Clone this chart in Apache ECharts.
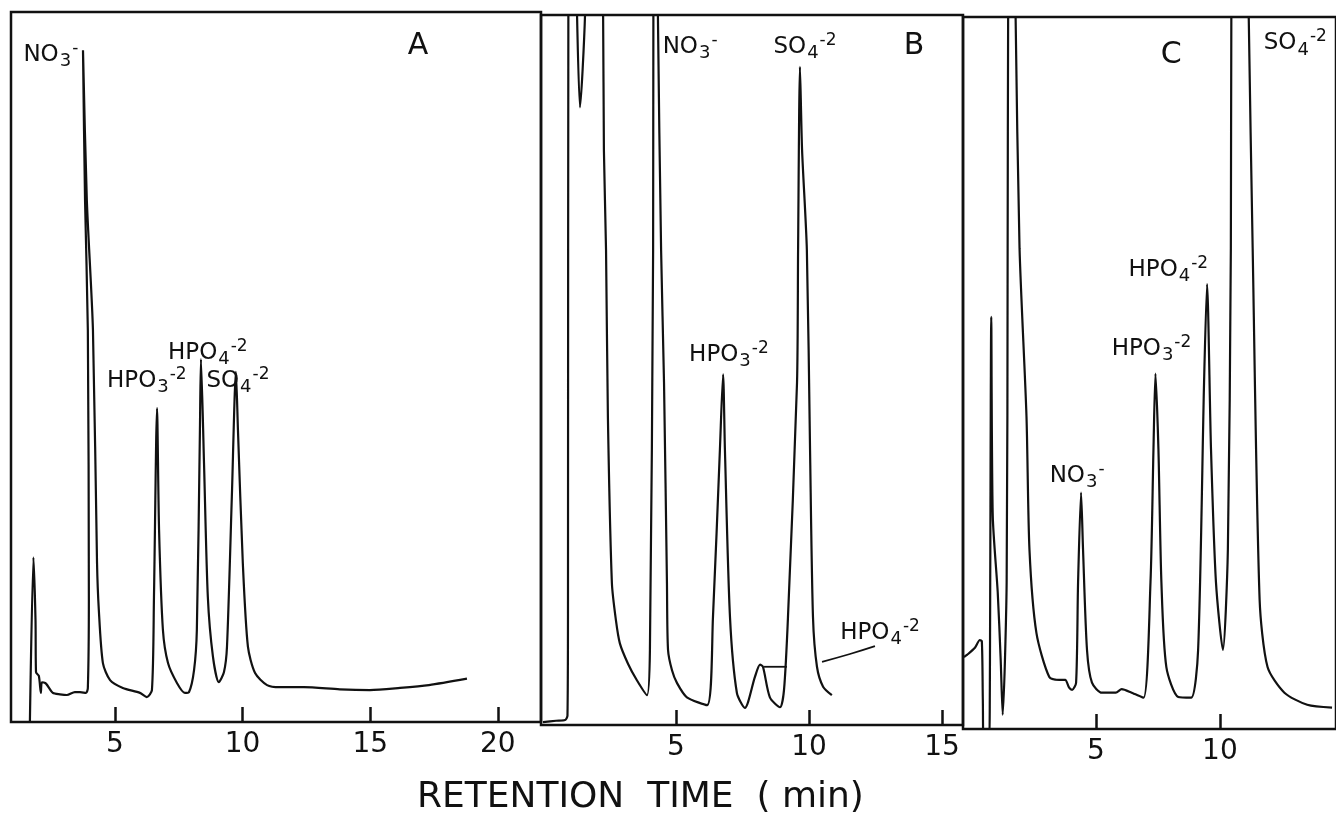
<!DOCTYPE html>
<html>
<head>
<meta charset="utf-8">
<script src="https://cdn.jsdelivr.net/npm/echarts@6/dist/echarts.min.js"></script>
<style>
html,body{margin:0;padding:0;background:#fff;}
#chart{width:1336px;height:817px;}
</style>
</head>
<body>
<div id="chart"></div>
<script>
// Retention time (min) and detector response (% of full scale)
const traceA = [
  [1.67,0],[1.81,23.2],[1.89,14.4],[1.91,7.0],[2.02,6.5],[2.10,4.1],[2.14,5.6],[2.30,5.4],[2.57,4.1],
  [2.85,3.9],[3.12,3.8],[3.43,4.2],[3.63,4.2],[3.87,4.1],[3.94,4.8],[3.98,17.2],[3.94,55.2],[3.83,73.5],
  [3.75,94.6],[3.90,73.5],[4.14,55.2],[4.30,22.4],[4.37,15.8],[4.53,8.3],[4.81,5.9],[5.31,4.8],[5.98,4.1],
  [6.25,3.5],[6.45,4.5],[6.53,17.6],[6.65,44.2],[6.73,27.0],[6.88,13.0],[7.08,8.3],[7.43,5.5],[7.74,4.1],
  [7.90,4.2],[8.10,7.3],[8.21,13.0],[8.33,41.1],[8.37,51.1],[8.49,36.5],[8.64,17.6],[8.84,9.2],[9.07,5.6],
  [9.27,7.0],[9.39,10.6],[9.58,31.7],[9.74,49.3],[9.82,41.1],[10.01,22.4],[10.21,10.6],[10.49,6.9],
  [10.96,5.2],[11.46,4.9],[12.40,4.9],[13.81,4.6],[14.99,4.5],[16.17,4.8],[17.30,5.2],[18.79,6.1]
];
const traceB = [
  [0.00,0.4],[0.49,0.6],[0.83,0.7],[0.92,1.3],[0.94,17.6],[0.96,125],[1.17,125],[1.28,100],[1.39,87.0],
  [1.58,100],[1.69,125],[2.14,125],[2.26,100],[2.29,81.0],[2.37,66.9],[2.44,43.4],[2.59,20.0],[2.74,14.8],
  [2.89,11.5],[3.20,8.6],[3.53,6.3],[3.91,4.2],[4.02,10.6],[4.14,66.9],[4.15,100],[4.21,125],[4.29,125],
  [4.32,100],[4.44,66.9],[4.55,48.2],[4.66,20.0],[4.70,10.6],[4.85,7.7],[5.04,5.9],[5.41,3.9],[6.17,2.8],
  [6.39,15.2],[6.65,38.7],[6.77,49.4],[6.84,38.7],[7.03,15.2],[7.29,4.5],[7.59,2.4],[7.97,6.8],[8.16,8.5],
  [8.27,8.2],[8.53,3.9],[8.91,2.5],[9.06,4.9],[9.21,15.2],[9.55,48.2],[9.59,66.9],[9.66,92.7],[9.74,81.0],
  [9.92,66.9],[10.04,38.7],[10.15,15.2],[10.30,8.2],[10.53,5.4],[10.86,4.2]
];
const traceC = [
  [-0.32,10.1],[-0.20,10.4],[0.12,11.4],[0.32,12.5],[0.40,12.3],[0.44,4.1],[0.48,-2.3],[0.68,-2.3],
  [0.72,4.1],[0.78,57.9],[0.84,29.9],[1.04,19.2],[1.16,9.7],[1.24,2.0],[1.40,20.6],[1.44,67.5],[1.46,100.3],
  [1.52,125],[1.68,125],[1.76,100.3],[1.92,67.5],[2.20,43.9],[2.32,25.2],[2.60,13.5],[3.12,7.3],[3.52,6.9],
  [3.76,6.9],[3.92,5.8],[4.04,5.5],[4.20,6.5],[4.28,20.6],[4.40,33.2],[4.48,25.2],[4.64,11.1],[4.84,6.5],
  [5.24,5.1],[5.80,5.1],[6.04,5.6],[6.44,5.1],[6.92,4.4],[7.20,20.6],[7.32,39.3],[7.40,49.9],[7.52,39.3],
  [7.64,20.6],[7.84,8.7],[8.32,4.5],[8.84,4.4],[9.12,11.1],[9.36,48.7],[9.48,62.5],[9.64,39.3],[9.84,20.6],
  [10.12,11.1],[10.32,25.2],[10.44,67.5],[10.46,100.3],[10.56,125],[11.08,125],[11.16,100.3],[11.32,67.5],
  [11.60,18.2],[11.92,8.7],[12.60,5.1],[13.52,3.4],[14.52,3.0]
];
// peak labels: [element, subscript, superscript, time, response]
const peaksA = [['NO','3','-',2.49,93.9],['HPO','3','-2',6.25,48.0],['HPO','4','-2',8.64,52.0],['SO','4','-2',9.82,48.0]];
const peaksB = [['NO','3','-',5.53,95.5],['SO','4','-2',9.85,95.5],['HPO','3','-2',6.99,52.1],['HPO','4','-2',12.67,13.0]];
const peaksC = [['SO','4','-2',13.04,96.3],['HPO','4','-2',7.92,64.5],['HPO','3','-2',7.24,53.4],['NO','3','-',4.24,35.5]];
const panelNames = ['A','B','C'];
const panelNamePos = [[16.87,95.2],[13.95,95.6],[8.04,94.6]];
// HPO4 marker in B: small baseline tick and leader line
const markerB = [[8.31,8.2],[9.17,8.2]];
const leaderB = [[10.49,8.9],[11.54,10.0],[12.48,11.1]];
const ticksA = [5,10,15,20];
const ticksB = [5,10,15];
const ticksC = [5,10];
const xRange = [[0.93,21.69],[-0.075,15.79],[-0.36,14.68]];
const axisTitle = 'RETENTION  TIME  ( min)';

const ink = '#111';
const font = 'DejaVu Sans';
const rich = {
  n:{fontSize:23,fontFamily:font,color:ink},
  s:{fontSize:18,fontFamily:font,color:ink,padding:[13,0,0,1]},
  p:{fontSize:17,fontFamily:font,color:ink,padding:[0,0,13,1]}
};
function labelSeries(list, gi, name, pos){
  const data = list.map(p => ({value:[p[3],p[4]], label:{formatter:'{n|'+p[0]+'}{s|'+p[1]+'}{p|'+p[2]+'}'}}));
  data.push({value:pos, label:{formatter:'{L|'+name+'}'}});
  return {type:'scatter', xAxisIndex:gi, yAxisIndex:gi, symbolSize:0, silent:true, z:5,
    itemStyle:{opacity:1},
    label:{show:true, position:'inside', color:ink, rich:Object.assign({L:{fontSize:30,fontFamily:font,color:ink}}, rich)},
    data:data};
}
const grids = [
  {left:11, right:795, top:12, bottom:95},
  {left:541, right:373, top:15, bottom:92},
  {left:963, right:-3, top:17, bottom:88}
].map(g => Object.assign(g, {show:true, borderColor:ink, borderWidth:2.5, containLabel:false}));
const tickSets = [ticksA, ticksB, ticksC];
const xAxes = tickSets.map((t,i) => ({
  type:'value', gridIndex:i, min:xRange[i][0], max:xRange[i][1],
  axisLine:{show:false}, splitLine:{show:false},
  axisTick:{show:true, inside:true, length:15, customValues:t, lineStyle:{color:ink,width:2.5}},
  axisLabel:{show:true, margin:9, customValues:t, fontSize:28, fontFamily:font, color:ink}
}));
const yAxes = [0,1,2].map(i => ({type:'value', gridIndex:i, min:0, max:100, show:false}));
const lineStyle = {color:ink, width:2.2};
const traces = [traceA, traceB, traceC].map((d,i) => ({
  type:'line', xAxisIndex:i, yAxisIndex:i, data:d, showSymbol:false, clip:true, silent:true,
  smooth:0.25, lineStyle:lineStyle, z:3
}));
const option = {
  backgroundColor:'#fff',
  animation:false,
  title:{text:axisTitle, left:412, top:775, textStyle:{fontSize:36, fontWeight:'normal', fontFamily:font, color:ink}},
  grid:grids, xAxis:xAxes, yAxis:yAxes,
  series:[
    ...traces,
    {type:'line', xAxisIndex:1, yAxisIndex:1, data:markerB, showSymbol:false, silent:true, lineStyle:{color:ink,width:1.8}},
    {type:'line', xAxisIndex:1, yAxisIndex:1, data:leaderB, smooth:true, showSymbol:false, silent:true, lineStyle:{color:ink,width:1.8}},
    labelSeries(peaksA,0,panelNames[0],panelNamePos[0]),
    labelSeries(peaksB,1,panelNames[1],panelNamePos[1]),
    labelSeries(peaksC,2,panelNames[2],panelNamePos[2])
  ]
};
const chart = echarts.init(document.getElementById('chart'), null, {renderer:'canvas'});
chart.setOption(option);
</script>
</body>
</html>
